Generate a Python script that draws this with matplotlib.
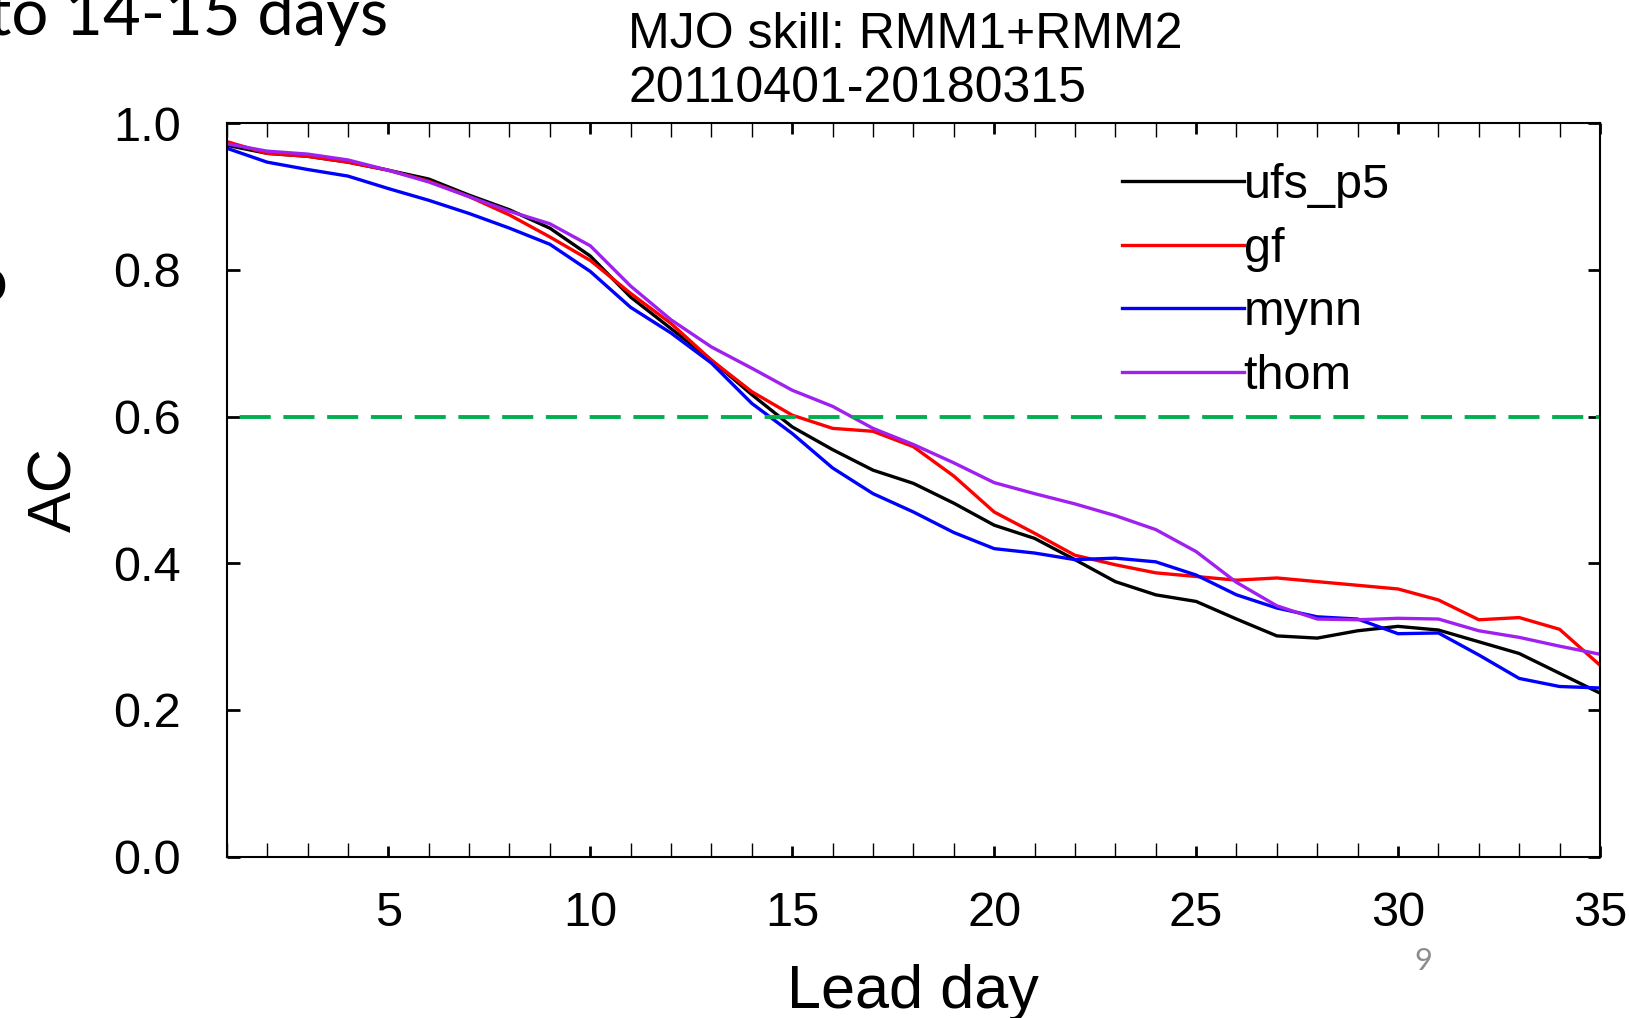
import matplotlib
matplotlib.use("Agg")
import matplotlib.pyplot as plt
from matplotlib.ticker import MultipleLocator, FormatStrFormatter

plt.rcParams["font.family"] = ["Liberation Sans", "DejaVu Sans"]

lead_days = list(range(1, 36))

ufs_p5 = [0.970, 0.959, 0.955, 0.947, 0.936, 0.924, 0.902, 0.882, 0.857, 0.819,
          0.763, 0.720, 0.677, 0.630, 0.586, 0.555, 0.527, 0.509, 0.482, 0.452,
          0.434, 0.405, 0.375, 0.357, 0.348, 0.324, 0.301, 0.298, 0.308, 0.314,
          0.309, 0.293, 0.277, 0.250, 0.223]
gf = [0.975, 0.959, 0.955, 0.947, 0.936, 0.921, 0.900, 0.875, 0.845, 0.813,
      0.768, 0.727, 0.677, 0.634, 0.602, 0.584, 0.580, 0.559, 0.519, 0.470,
      0.441, 0.411, 0.398, 0.387, 0.382, 0.377, 0.380, 0.375, 0.370, 0.365,
      0.350, 0.323, 0.326, 0.310, 0.261]
mynn = [0.966, 0.947, 0.937, 0.928, 0.911, 0.895, 0.877, 0.857, 0.835, 0.798,
        0.749, 0.714, 0.673, 0.618, 0.577, 0.530, 0.495, 0.470, 0.442, 0.420,
        0.414, 0.405, 0.407, 0.402, 0.384, 0.357, 0.339, 0.327, 0.324, 0.304,
        0.305, 0.275, 0.243, 0.232, 0.230]
thom = [0.972, 0.962, 0.958, 0.950, 0.936, 0.920, 0.900, 0.880, 0.863, 0.833,
        0.778, 0.732, 0.695, 0.666, 0.636, 0.614, 0.584, 0.562, 0.537, 0.510,
        0.495, 0.481, 0.465, 0.446, 0.416, 0.374, 0.342, 0.324, 0.323, 0.325,
        0.324, 0.308, 0.299, 0.287, 0.276]

series = [("ufs_p5", ufs_p5, "black"),
          ("gf", gf, "#ff0000"),
          ("mynn", mynn, "#0000ff"),
          ("thom", thom, "#a020f0")]
threshold = 0.6
x_major = [5, 10, 15, 20, 25, 30, 35]

fig = plt.figure(figsize=(16.29, 10.18), dpi=100)
ax = fig.add_axes([0.1392, 0.1585, 0.8430, 0.7204])

for name, vals, color in series:
    ax.plot(lead_days, vals, color=color, lw=2.4, label=name)

ax.axhline(threshold, color="#00b050", lw=2.8, ls=(8.0, (8.0, 3.25)))

ax.set_xlim(1, 35)
ax.set_ylim(0, 1)
ax.set_xticks(x_major)
ax.xaxis.set_minor_locator(MultipleLocator(1))
ax.yaxis.set_major_locator(MultipleLocator(0.2))
ax.yaxis.set_major_formatter(FormatStrFormatter("%.1f"))

ax.tick_params(axis="x", which="major", direction="in", length=7.7, width=2,
               top=True, pad=25, labelsize=35)
ax.tick_params(axis="x", which="minor", direction="in", length=10, width=1,
               top=True)
ax.tick_params(axis="y", which="major", direction="in", length=9, width=2,
               right=True, pad=33, labelsize=35)
for sp in ax.spines.values():
    sp.set_linewidth(1.5)

ax.set_xlabel("Lead day", fontsize=44)
ax.xaxis.set_label_coords(0.5, -0.1463)
ax.set_ylabel("AC", fontsize=44)
ax.yaxis.set_label_coords(-0.104, 0.5)

ax.legend(loc="upper left", bbox_to_anchor=(0.652, 0.9456), frameon=False,
          fontsize=35, handlelength=2.5, handletextpad=0.0, borderpad=0,
          borderaxespad=0, labelspacing=0.38)

fig.text(0.3858, 0.9526, "MJO skill: RMM1+RMM2", fontsize=36, va="baseline")
fig.text(0.3858, 0.9001, "20110401-20180315", fontsize=36, va="baseline")

# slide text around the chart (cut off at the edge in the original)
fig.text(0.2382, 0.9656, "to 14-15 days", fontsize=47, family="Lato",
         ha="right", va="baseline")
fig.text(0.0047, 0.7033, "o", fontsize=47, family="Lato",
         ha="right", va="baseline")
fig.text(0.8738, 0.0472, "9", fontsize=22, family="Lato", color="#8c8c8c",
         ha="center", va="baseline")

fig.savefig("out.png", dpi=100)
